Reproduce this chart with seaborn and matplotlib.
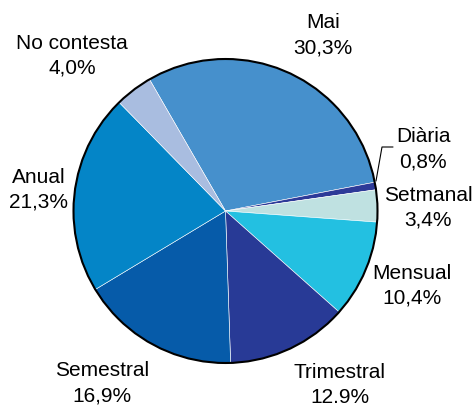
import matplotlib
matplotlib.use("Agg")
import matplotlib.pyplot as plt
import seaborn as sns

# slices, clockwise from the top-left
categories = ["Mai", "Diària", "Setmanal", "Mensual", "Trimestral", "Semestral", "Anual", "No contesta"]
values = [30.3, 0.8, 3.4, 10.4, 12.9, 16.9, 21.3, 4.0]
pct_labels = ["30,3%", "0,8%", "3,4%", "10,4%", "12.9%", "16,9%", "21,3%", "4,0%"]
colors = ["#4690cc", "#2d3a98", "#bfe1e1", "#23c0e1", "#283a96", "#065ba9", "#0485c7", "#a9bde0"]

# label centres in pixel space (x, y from top)
label_pos = [(323, 35), (423, 149), (428, 208), (412, 286), (340, 385), (102, 383), (39, 190), (72, 56)]

W, H = 475, 405
sns.set_theme(style="white")
plt.rcParams["font.family"] = ["Liberation Sans", "DejaVu Sans"]

fig = plt.figure(figsize=(W / 100, H / 100), dpi=100)
ax = fig.add_axes([0, 0, 1, 1])

cx, cy, r = 225.5, H - 211, 152
ax.pie(values, colors=sns.color_palette(colors), startangle=120, counterclock=False,
       center=(cx, cy), radius=r,
       wedgeprops=dict(edgecolor="white", linewidth=0.4))
ax.add_patch(plt.Circle((cx, cy), r, fill=False, edgecolor="black", linewidth=1.5))

for name, pct, (x, y) in zip(categories, pct_labels, label_pos):
    ax.text(x, H - y, name + "\n" + pct, ha="center", va="center",
            fontsize=15, color="black", linespacing=1.4)

# leader line for the thin "Diària" slice
ax.plot([376, 382, 393], [H - 181, H - 147, H - 147], color="black", linewidth=0.8)

ax.set_xlim(0, W)
ax.set_ylim(0, H)
ax.set_aspect("equal")
ax.axis("off")

fig.savefig("out.png", dpi=100)
